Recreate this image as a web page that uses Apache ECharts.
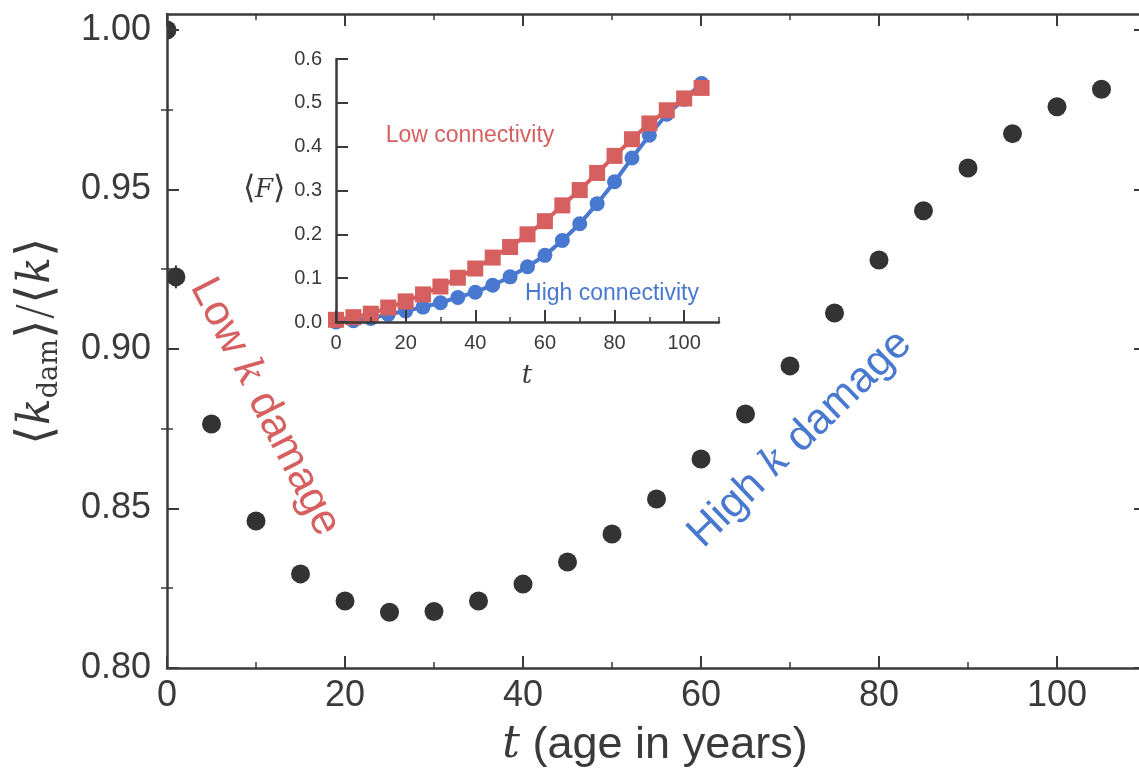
<!DOCTYPE html>
<html>
<head>
<meta charset="utf-8">
<script src="https://cdn.jsdelivr.net/npm/echarts@6/dist/echarts.min.js"></script>
<style>html,body{margin:0;padding:0;background:#fff;}#c{width:1139px;height:769px;}</style>
</head>
<body>
<div id="c"></div>
<script>
// ---- main panel data ----
const mainT = [0, 1, 5, 10, 15, 20, 25, 30, 35, 40, 45, 50, 55, 60, 65, 70, 75, 80, 85, 90, 95, 100, 105];
const mainK = [1.000, 0.9226, 0.8765, 0.8461, 0.8295, 0.8210, 0.8175, 0.8177, 0.8210, 0.8263, 0.8332, 0.8420,
               0.8530, 0.8655, 0.8796, 0.8947, 0.9113, 0.9279, 0.9433, 0.9567, 0.9675, 0.9759, 0.9814];
const errT = [1, 1];
const errK = [0.9190, 0.9262];
const mainXTicks = [0, 20, 40, 60, 80, 100];
const mainXMinor = [10, 30, 50, 70, 90, 110];
const mainYTicks = [0.80, 0.85, 0.90, 0.95, 1.00];
const mainYMinor = [0.825, 0.875, 0.925, 0.975];
// ---- inset data ----
const insetT = [0, 5, 10, 15, 20, 25, 30, 35, 40, 45, 50, 55, 60, 65, 70, 75, 80, 85, 90, 95, 100, 105];
const lowF  = [0.005, 0.011, 0.019, 0.033, 0.047, 0.063, 0.081, 0.101, 0.122, 0.147, 0.171, 0.200,
               0.230, 0.266, 0.301, 0.340, 0.379, 0.417, 0.453, 0.483, 0.510, 0.534];
const highF = [0.000, 0.003, 0.008, 0.0175, 0.025, 0.034, 0.044, 0.056, 0.068, 0.084, 0.103, 0.126,
               0.152, 0.186, 0.224, 0.270, 0.320, 0.374, 0.426, 0.474, 0.508, 0.544];
const insetXTicks = [0, 20, 40, 60, 80, 100];
const insetXMinor = [10, 30, 50, 70, 90, 110];
const insetYTicks = [0.0, 0.1, 0.2, 0.3, 0.4, 0.5, 0.6];

const AX = '#3a3a3a';
const DOT = '#333333';
const RED = '#d65f5f';
const BLUE = '#4878cf';
const SANS = '"Liberation Sans", Arial, Helvetica, sans-serif';
const SERIF = '"DejaVu Serif", "Liberation Serif", serif';

function zip(a, b) { return a.map((v, i) => [v, b[i]]); }

function axis(base, o) {
  return Object.assign({
    type: 'value', z: 4, splitLine: {show: false},
    axisLine: {show: true, onZero: false, lineStyle: {color: AX, width: 2.5}},
    axisTick: {show: true, inside: true, length: 12, lineStyle: {color: AX, width: 2}},
    axisLabel: {show: false}
  }, base, o);
}
const mainX = {gridIndex: 0, min: 0, max: 110};
const mainY = {gridIndex: 0, min: 0.80, max: 1.005};
const insX = {gridIndex: 1, min: 0, max: 110};
const insY = {gridIndex: 1, min: 0, max: 0.6};

const labelMain = {show: true, fontSize: 36, color: AX, fontFamily: SANS};
const labelIns = {show: true, fontSize: 20, color: AX, fontFamily: SANS};

const option = {
  animation: false,
  backgroundColor: '#fff',
  grid: [
    {left: 167, top: 14, width: 979, bottom: 101, containLabel: false, outerBoundsMode: 'none'},
    {left: 336, top: 59, width: 383, height: 263, containLabel: false, outerBoundsMode: 'none'}
  ],
  xAxis: [
    axis(mainX, {position: 'bottom', axisTick: {show: true, inside: true, length: 12, customValues: mainXTicks, lineStyle: {color: AX, width: 2}},
      axisLabel: Object.assign({}, labelMain, {margin: 10, customValues: mainXTicks})}),
    axis(mainX, {position: 'bottom', axisLine: {show: false}, axisTick: {show: true, inside: true, length: 6, customValues: mainXMinor, lineStyle: {color: AX, width: 1.5}}}),
    axis(mainX, {position: 'top', axisTick: {show: true, inside: true, length: 12, customValues: mainXTicks, lineStyle: {color: AX, width: 2}}}),
    axis(mainX, {position: 'top', axisLine: {show: false}, axisTick: {show: true, inside: true, length: 6, customValues: mainXMinor, lineStyle: {color: AX, width: 1.5}}}),
    axis(insX, {position: 'bottom', axisTick: {show: true, inside: true, length: 12, customValues: insetXTicks, lineStyle: {color: AX, width: 2}},
      axisLabel: Object.assign({}, labelIns, {margin: 11, customValues: insetXTicks})}),
    axis(insX, {position: 'bottom', axisLine: {show: false}, axisTick: {show: true, inside: true, length: 5, customValues: insetXMinor, lineStyle: {color: AX, width: 1.5}}})
  ],
  yAxis: [
    axis(mainY, {position: 'left', axisTick: {show: true, inside: true, length: 12, customValues: mainYTicks, lineStyle: {color: AX, width: 2}},
      axisLabel: Object.assign({}, labelMain, {margin: 16, customValues: mainYTicks, formatter: v => v.toFixed(2)})}),
    axis(mainY, {position: 'left', axisLine: {show: false}, axisTick: {show: true, inside: true, length: 6, customValues: mainYMinor, lineStyle: {color: AX, width: 1.5}}}),
    axis(mainY, {position: 'right', axisTick: {show: true, inside: true, length: 12, customValues: mainYTicks, lineStyle: {color: AX, width: 2}}}),
    axis(mainY, {position: 'right', axisLine: {show: false}, axisTick: {show: true, inside: true, length: 6, customValues: mainYMinor, lineStyle: {color: AX, width: 1.5}}}),
    axis(insY, {position: 'left', axisTick: {show: true, inside: true, length: 12, customValues: insetYTicks, lineStyle: {color: AX, width: 2}},
      axisLabel: Object.assign({}, labelIns, {margin: 14, customValues: insetYTicks, formatter: v => v.toFixed(1)})})
  ],
  series: [
    {type: 'line', xAxisIndex: 0, yAxisIndex: 0, data: zip(errT, errK), symbol: 'none', z: 2,
     lineStyle: {color: DOT, width: 2}},
    {type: 'custom', xAxisIndex: 0, yAxisIndex: 0, data: zip(mainT, mainK), clip: true, z: 2,
     renderItem: function (params, api) {
       const p = api.coord([api.value(0), api.value(1)]);
       return {type: 'circle', shape: {cx: p[0], cy: p[1], r: 9.5}, style: {fill: DOT}};
     }},
    {type: 'line', xAxisIndex: 4, yAxisIndex: 4, data: zip(insetT, highF), symbol: 'circle', symbolSize: 15, z: 2,
     lineStyle: {color: BLUE, width: 4}, itemStyle: {color: BLUE, borderWidth: 0, opacity: 1}},
    {type: 'line', xAxisIndex: 4, yAxisIndex: 4, data: zip(insetT, lowF), symbol: 'rect', symbolSize: 16, z: 3,
     lineStyle: {color: RED, width: 4}, itemStyle: {color: RED, borderWidth: 0, opacity: 1}}
  ],
  graphic: [
    {type: 'text', x: 38, y: 341, rotation: Math.PI / 2, z: 10,
     style: {text: '{b|⟨}{k|k}{s|dam}{b|⟩}{n|/}{b|⟨}{k|k}{b|⟩}', align: 'center', verticalAlign: 'middle', fill: AX,
       rich: {
         b: {fontFamily: '"DejaVu Sans", sans-serif', fontSize: 50, fontWeight: 200, fill: AX},
         k: {fontFamily: SERIF, fontStyle: 'italic', fontSize: 44, fill: AX},
         s: {fontFamily: SERIF, fontSize: 27, fill: AX, verticalAlign: 'bottom', padding: [18, 0, 0, 0]},
         n: {fontFamily: '"DejaVu Sans", sans-serif', fontSize: 46, fontWeight: 200, fill: AX}
       }}},
    {type: 'text', x: 655, y: 746, z: 10,
     style: {text: '{t|t}{n| (age in years)}', align: 'center', verticalAlign: 'middle', fill: AX,
       rich: {
         t: {fontFamily: SERIF, fontStyle: 'italic', fontSize: 44, fill: AX},
         n: {fontFamily: SANS, fontSize: 45, fill: AX}
       }}},
    {type: 'text', x: 264, y: 190, z: 10,
     style: {text: '{b|⟨}{f|F}{b|⟩}', align: 'center', verticalAlign: 'middle', fill: AX,
       rich: {
         b: {fontFamily: '"DejaVu Sans", sans-serif', fontSize: 32, fontWeight: 200, fill: AX},
         f: {fontFamily: SERIF, fontStyle: 'italic', fontSize: 26, fill: AX}
       }}},
    {type: 'text', x: 527, y: 376, z: 10,
     style: {text: 't', align: 'center', verticalAlign: 'middle', fill: AX, fontFamily: SERIF, fontStyle: 'italic', fontSize: 26}},
    {type: 'text', x: 470, y: 136, z: 10,
     style: {text: 'Low connectivity', align: 'center', verticalAlign: 'middle', fill: RED, fontFamily: SANS, fontSize: 23}},
    {type: 'text', x: 612, y: 294, z: 10,
     style: {text: 'High connectivity', align: 'center', verticalAlign: 'middle', fill: BLUE, fontFamily: SANS, fontSize: 23}},
    {type: 'text', x: 265, y: 407, rotation: -63 * Math.PI / 180, z: 10,
     style: {text: '{n|Low }{k|k}{n| damage}', align: 'center', verticalAlign: 'middle', fill: RED,
       rich: {
         n: {fontFamily: SANS, fontSize: 43, fill: RED},
         k: {fontFamily: SERIF, fontStyle: 'italic', fontSize: 40, fill: RED}
       }}},
    {type: 'text', x: 800, y: 439, rotation: 44 * Math.PI / 180, z: 10,
     style: {text: '{n|High }{k|k}{n| damage}', align: 'center', verticalAlign: 'middle', fill: BLUE,
       rich: {
         n: {fontFamily: SANS, fontSize: 43, fill: BLUE},
         k: {fontFamily: SERIF, fontStyle: 'italic', fontSize: 40, fill: BLUE}
       }}}
  ]
};
const chart = echarts.init(document.getElementById('c'), null, {renderer: 'canvas'});
chart.setOption(option);
</script>
</body>
</html>
